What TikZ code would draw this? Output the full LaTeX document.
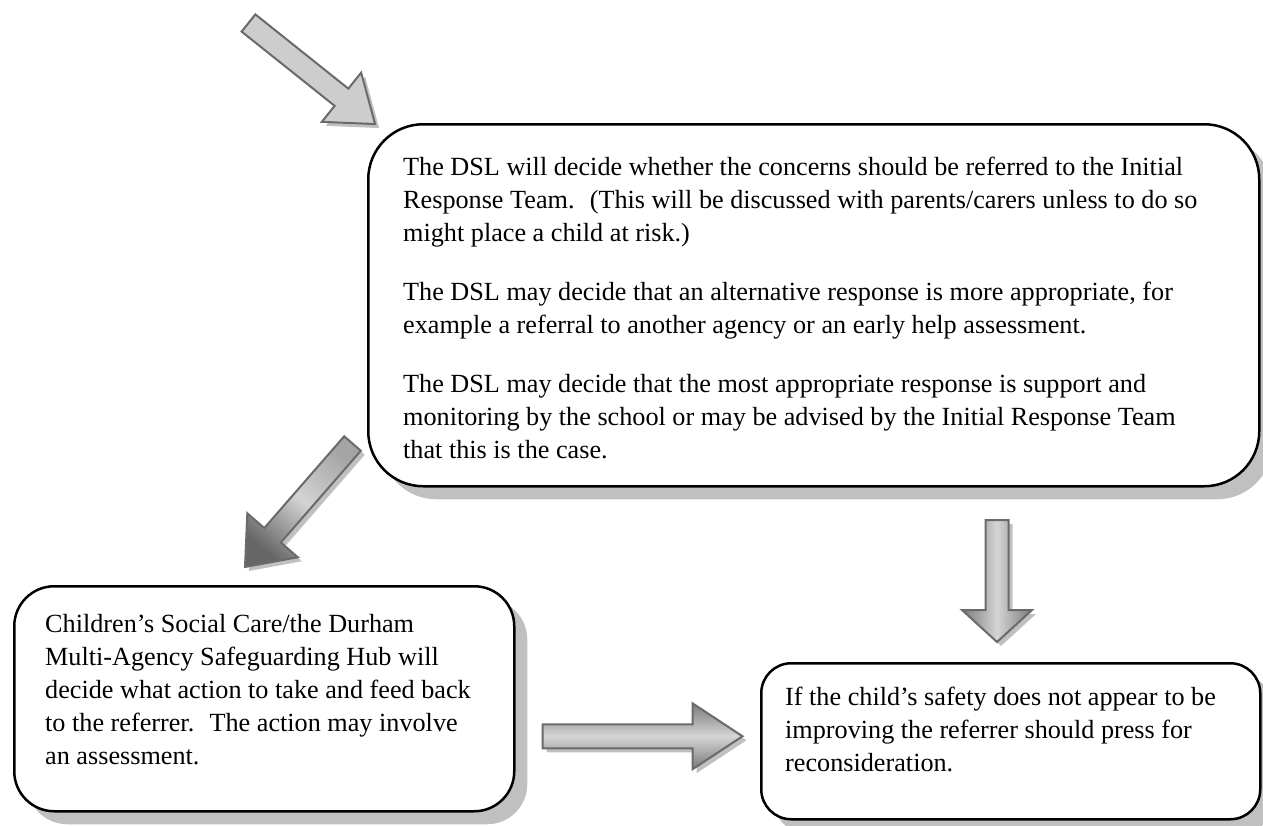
\documentclass[tikz,border=0pt]{standalone}
\usepackage{fontspec}
\setmainfont{Liberation Serif}
\usetikzlibrary{shadows,calc}
\definecolor{shadowgray}{HTML}{C0C0C0}
\definecolor{arrowedge}{HTML}{6A6A6A}
\definecolor{arrowlight}{HTML}{CDCDCD}
\definecolor{arrowdark}{HTML}{7A7A7A}
\definecolor{arrowmid}{HTML}{D4D4D4}
\definecolor{arrowhead}{HTML}{666666}
\definecolor{arrowtail}{HTML}{A4A4A4}
% #1 style, #2 tail coordinate, #3 angle, #4 length, #5 half shaft, #6 half head, #7 head length
\newcommand\blockarr[7]{%
  \path[fill=shadowgray, shift={($(#2)+(4,-4)$)}, rotate=#3]
    (0,-#5) -- ({#4-#7},-#5) -- ({#4-#7},-#6) -- (#4,0) -- ({#4-#7},#6) -- ({#4-#7},#5) -- (0,#5) -- cycle;
  \path[#1, shift={(#2)}, rotate=#3]
    (0,-#5) -- ({#4-#7},-#5) -- ({#4-#7},-#6) -- (#4,0) -- ({#4-#7},#6) -- ({#4-#7},#5) -- (0,#5) -- cycle;}
\begin{document}
\begin{tikzpicture}[x=1pt,y=1pt,
  roundbox/.style={draw=black, line width=2.5pt, fill=white, inner sep=0pt, anchor=north west,
    drop shadow={shadow xshift=13pt, shadow yshift=-13pt, fill=shadowgray, opacity=1}},
  boxtext/.style={inner sep=0pt, anchor=base west, font=\fontsize{26.2}{33}\selectfont},
  flatarrow/.style={draw=arrowedge, line width=2pt, fill=arrowlight, line join=miter},
  shadedarrow/.style={draw=arrowedge, line width=2pt, line join=miter,
    top color=arrowdark, bottom color=arrowdark, middle color=arrowmid},
  lengtharrow/.style={draw=arrowedge, line width=2pt, line join=miter,
    top color=arrowtail, bottom color=arrowhead, middle color=arrowmid}]
\useasboundingbox (0,0) rectangle (1263,-825);

% boxes
\node[roundbox, rounded corners=55pt, minimum width=891pt, minimum height=362pt] (dsl) at (367,-123) {};
\node[roundbox, rounded corners=40pt, minimum width=500pt, minimum height=225pt] (csc) at (13,-585) {};
\node[roundbox, rounded corners=30pt, minimum width=499pt, minimum height=156pt] (recon) at (760,-662) {};

% texts
\node[boxtext] (dsltext) at (403,-175) {\parbox[t]{850pt}{%
The DSL will decide whether the concerns should be referred to the Initial\\
Response Team.~ (This will be discussed with parents/carers unless to do so\\
might place a child at risk.)\\[26pt]
The DSL may decide that an alternative response is more appropriate, for\\
example a referral to another agency or an early help assessment.\\[26pt]
The DSL may decide that the most appropriate response is support and\\
monitoring by the school or may be advised by the Initial Response Team\\
that this is the case.}};

\node[boxtext] (csctext) at (45,-632) {\parbox[t]{460pt}{%
Children’s Social Care/the Durham\\
Multi-Agency Safeguarding Hub will\\
decide what action to take and feed back\\
to the referrer.~ The action may involve\\
an assessment.}};

\node[boxtext] (recontext) at (785,-705) {\parbox[t]{460pt}{%
If the child’s safety does not appear to be\\
improving the referrer should press for\\
reconsideration.}};

% arrow anchors
\coordinate (a1s) at (248.5,-23);
\coordinate (a2s) at ($(dsl.north west)+(-14.5,-320.5)$);
\coordinate (a3s) at ($(dsl.north west)+(630,-397)$);
\coordinate (a4s) at ($(csc.east)+(27,-37.5)$);

\blockarr{flatarrow}{a1s}{-38.6}{162}{11}{31.5}{43}
\blockarr{lengtharrow, shading angle=-41}{a2s}{-131.05}{163.7}{11}{33.5}{42}
\blockarr{shadedarrow, shading angle=-90}{a3s}{-90}{122}{11.5}{35}{32}
\blockarr{shadedarrow}{a4s}{0}{200}{12}{33}{50}
\end{tikzpicture}
\end{document}
